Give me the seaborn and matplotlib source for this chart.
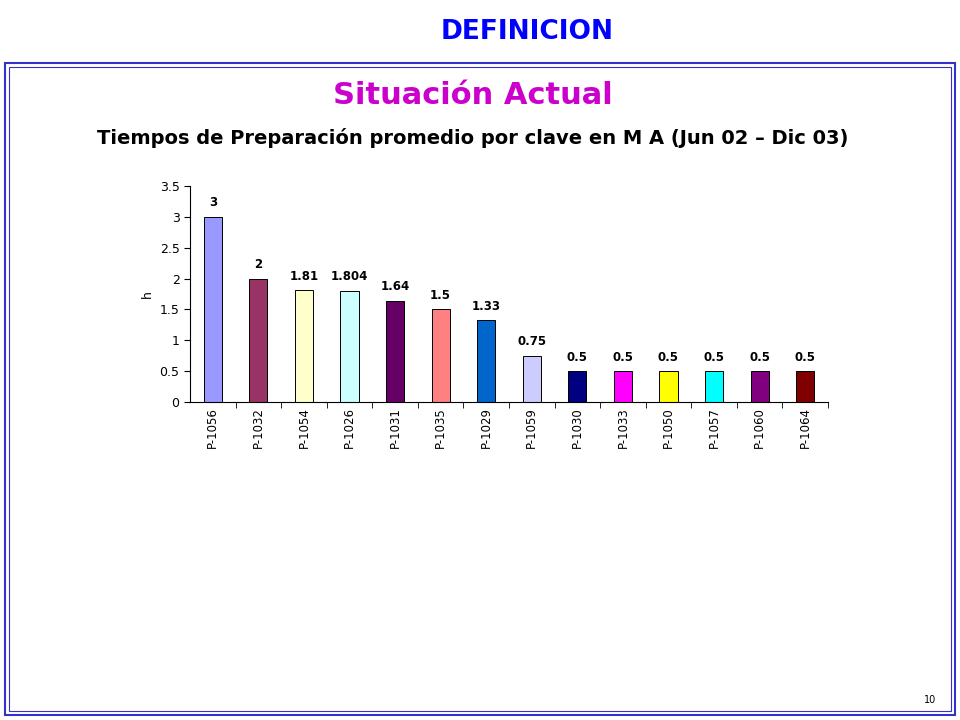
import matplotlib
matplotlib.use("Agg")
import matplotlib.pyplot as plt
import seaborn as sns
from matplotlib.patches import Rectangle

# data
claves = ["P-1056", "P-1032", "P-1054", "P-1026", "P-1031", "P-1035", "P-1029",
          "P-1059", "P-1030", "P-1033", "P-1050", "P-1057", "P-1060", "P-1064"]
horas = [3, 2, 1.81, 1.804, 1.64, 1.5, 1.33, 0.75, 0.5, 0.5, 0.5, 0.5, 0.5, 0.5]
etiquetas = ["3", "2", "1.81", "1.804", "1.64", "1.5", "1.33", "0.75",
             "0.5", "0.5", "0.5", "0.5", "0.5", "0.5"]
colores = ["#9999FF", "#993366", "#FFFFCC", "#CCFFFF", "#660066", "#FF8080", "#0066CC",
           "#CCCCFF", "#000080", "#FF00FF", "#FFFF00", "#00FFFF", "#800080", "#800000"]

fig = plt.figure(figsize=(9.6, 7.2), dpi=100)

# slide frame (double blue border)
fig.patches.append(Rectangle((5/960, 5/720), 950/960, 652/720, transform=fig.transFigure,
                             fill=False, edgecolor="#3333CC", linewidth=1.5))
fig.patches.append(Rectangle((9/960, 9/720), 942/960, 644/720, transform=fig.transFigure,
                             fill=False, edgecolor="#3333CC", linewidth=0.8))

fig.text(527/960, 1 - 32/720, "DEFINICION", ha="center", va="center",
         color="#0000FF", fontsize=19, fontweight="bold")
fig.text(473/960, 1 - 95/720, "Situación Actual", ha="center", va="center",
         color="#CC00CC", fontsize=22, fontweight="bold")
fig.text(473/960, 1 - 138/720, "Tiempos de Preparación promedio por clave en M A (Jun 02 – Dic 03)",
         ha="center", va="center", color="black", fontsize=14, fontweight="bold")
fig.text(930/960, 1 - 700/720, "10", ha="center", va="center", fontsize=7)

ax = fig.add_axes([190/960, 1 - 402/720, 638/960, 216/720])
sns.barplot(x=claves, y=horas, hue=claves, palette=colores, legend=False, saturation=1,
            width=0.4, edgecolor="black", linewidth=0.7, ax=ax)

for i, (v, t) in enumerate(zip(horas, etiquetas)):
    ax.text(i, v + 0.12, t, ha="center", va="bottom", fontsize=8.5, fontweight="bold")

ax.set_ylim(0, 3.5)
ax.set_xlim(-0.5, len(claves) - 0.5)
ax.set_yticks([0, 0.5, 1, 1.5, 2, 2.5, 3, 3.5])
ax.set_yticklabels(["0", "0.5", "1", "1.5", "2", "2.5", "3", "3.5"], fontsize=9)
ax.set_ylabel("h", fontsize=9, rotation=90)
ax.tick_params(axis="x", rotation=90, labelsize=8.5, length=4)
ax.set_xticks([i + 0.5 for i in range(len(claves))], minor=True)
ax.tick_params(axis="x", which="major", length=0)
ax.tick_params(axis="x", which="minor", length=4)
ax.tick_params(axis="y", length=4)
ax.spines["top"].set_visible(False)
ax.spines["right"].set_visible(False)

fig.savefig("out.png", dpi=100)
